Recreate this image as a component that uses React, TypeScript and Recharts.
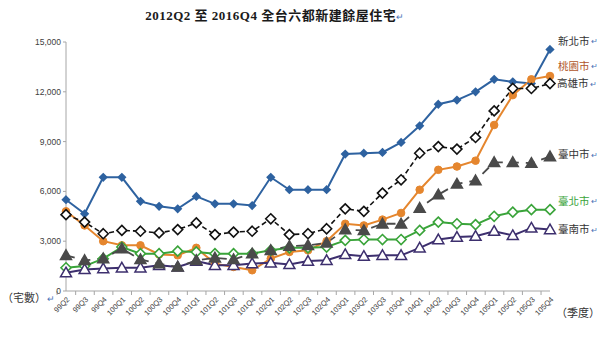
import { LineChart, Line, XAxis, YAxis } from "recharts";

const quarters = [
  "99Q2", "99Q3", "99Q4",
  "100Q1", "100Q2", "100Q3", "100Q4",
  "101Q1", "101Q2", "101Q3", "101Q4",
  "102Q1", "102Q2", "102Q3", "102Q4",
  "103Q1", "103Q2", "103Q3", "103Q4",
  "104Q1", "104Q2", "104Q3", "104Q4",
  "105Q1", "105Q2", "105Q3", "105Q4",
];

const newTaipei = [5500, 4650, 6850, 6850, 5400, 5100, 4950, 5700, 5250, 5250, 5150, 6850, 6100, 6100, 6100, 8250, 8300, 8350, 8950, 9950, 11250, 11500, 12000, 12750, 12600, 12500, 14550];
const taoyuan = [4800, 3950, 3000, 2750, 2750, 2200, 2150, 2600, 1650, 1450, 1250, 1950, 2350, 2450, 3000, 4050, 3950, 4300, 4700, 6100, 7300, 7500, 7850, 10000, 11800, 12750, 12950];
const kaohsiung = [4600, 4150, 3450, 3650, 3600, 3500, 3700, 4100, 3400, 3550, 3600, 4350, 3400, 3450, 3750, 4950, 4800, 5900, 6700, 8300, 8700, 8550, 9250, 10850, 12200, 12200, 12500];
const taichung = [2150, 1850, 1950, 2550, 1900, 1650, 1450, 1850, 2000, 1900, 2250, 2450, 2700, 2750, 2900, 3700, 3650, 4050, 4050, 5000, 5800, 6450, 6650, 7750, 7750, 7700, 8100];
const taipei = [1400, 1500, 1950, 2650, 2250, 2250, 2400, 2350, 2250, 2250, 2250, 2450, 2600, 2600, 2650, 3050, 3100, 3100, 3100, 3650, 4150, 4050, 4000, 4500, 4750, 4900, 4900];
const tainan = [1100, 1300, 1350, 1400, 1400, 1550, 1450, 1800, 1550, 1550, 1650, 1700, 1600, 1800, 1850, 2200, 2100, 2150, 2150, 2600, 3100, 3250, 3300, 3600, 3350, 3800, 3700];

const yTicks = [0, 3000, 6000, 9000, 12000, 15000];

const data = quarters.map((q, i) => ({
  q,
  newTaipei: newTaipei[i],
  taoyuan: taoyuan[i],
  kaohsiung: kaohsiung[i],
  taichung: taichung[i],
  taipei: taipei[i],
  tainan: tainan[i],
}));

const CJK = '"Noto Sans CJK TC", "Noto Sans CJK SC", sans-serif';
const ARROW = "#4a72b8";

const makeDot = (shape: string, fill: string, stroke: string, size: number) => (props: any) => {
  const { cx, cy, index } = props;
  if (cx == null || cy == null) return <g key={index} />;
  if (shape === "diamond") {
    const s = size;
    return (
      <path
        key={index}
        d={`M${cx},${cy - s}L${cx + s},${cy}L${cx},${cy + s}L${cx - s},${cy}Z`}
        fill={fill}
        stroke={stroke}
        strokeWidth={1.6}
      />
    );
  }
  if (shape === "triangle") {
    const s = size;
    return (
      <path
        key={index}
        d={`M${cx},${cy - s}L${cx + s},${cy + s * 0.75}L${cx - s},${cy + s * 0.75}Z`}
        fill={fill}
        stroke={stroke}
        strokeWidth={1.5}
      />
    );
  }
  return <circle key={index} cx={cx} cy={cy} r={size} fill={fill} stroke={stroke} strokeWidth={1} />;
};

const endLabel = (text: string, color: string, dx: number, dy: number) => (props: any) => {
  const { x, y, index } = props;
  if (index !== quarters.length - 1) return null;
  return (
    <text x={x + dx} y={y + dy} fontSize={10.5} fontFamily={CJK} fill={color} dominantBaseline="middle">
      {text}
      <tspan fill={ARROW} fontSize={8}> ↵</tspan>
    </text>
  );
};

const XTick = (props: any) => {
  const { x, y, payload } = props;
  const step = 484 / quarters.length;
  return (
    <g>
      <line x1={x - step / 2} y1={y - 8} x2={x - step / 2} y2={y - 4} stroke="#a6a6a6" />
      <text
        x={0}
        y={0}
        transform={`translate(${x + 4},${y + 1}) rotate(-45)`}
        textAnchor="end"
        fontSize={7.5}
        fontFamily="Liberation Sans, sans-serif"
        fill="#404040"
      >
        {payload.value}
      </text>
    </g>
  );
};

export default function App() {
  return (
    <div style={{ position: "absolute", left: 0, top: 0, width: 600, height: 361, background: "#fff" }}>
      <LineChart width={600} height={361} data={data} margin={{ top: 42, right: 50, bottom: 35, left: 6 }}>
        <XAxis
          dataKey="q"
          stroke="#a6a6a6"
          tickLine={false}
          interval={0}
          tick={<XTick />}
          height={35}
        />
        <YAxis
          domain={[0, 15000]}
          ticks={yTicks}
          width={60}
          stroke="#a6a6a6"
          tickSize={3}
          tickFormatter={(v: number) => v.toLocaleString("en-US")}
          tick={{ fontSize: 8.5, fill: "#404040", fontFamily: "Liberation Sans, sans-serif" }}
        />
        <Line
          dataKey="newTaipei"
          stroke="#2e62a0"
          strokeWidth={2}
          dot={makeDot("diamond", "#2e62a0", "#2e62a0", 3.5)}
          label={endLabel("新北市", "#333", 8, -7)}
          isAnimationActive={false}
        />
        <Line
          dataKey="taoyuan"
          stroke="#e5862e"
          strokeWidth={2}
          dot={makeDot("circle", "#e5862e", "#e5862e", 3.8)}
          label={endLabel("桃園市", "#b0552a", 8, -9)}
          isAnimationActive={false}
        />
        <Line
          dataKey="kaohsiung"
          stroke="#111"
          strokeWidth={1.6}
          strokeDasharray="5 3"
          dot={makeDot("diamond", "#fff", "#111", 5)}
          label={endLabel("高雄市", "#333", 7, 1)}
          isAnimationActive={false}
        />
        <Line
          dataKey="taipei"
          stroke="#3aa43a"
          strokeWidth={2}
          dot={makeDot("diamond", "#fff", "#3aa43a", 5)}
          label={endLabel("臺北市", "#3aa43a", 8, -8)}
          isAnimationActive={false}
        />
        <Line
          dataKey="tainan"
          stroke="#3d2f6e"
          strokeWidth={2}
          dot={makeDot("triangle", "#fff", "#3d2f6e", 5.5)}
          label={endLabel("臺南市", "#333", 8, 1)}
          isAnimationActive={false}
        />
        <Line
          dataKey="taichung"
          stroke="#4a4a4a"
          strokeWidth={1.8}
          strokeDasharray="9 7"
          dot={makeDot("triangle", "#4a4a4a", "#4a4a4a", 5.5)}
          label={endLabel("臺中市", "#333", 8, -1)}
          isAnimationActive={false}
        />
      </LineChart>
      <svg
        width={600}
        height={361}
        style={{ position: "absolute", left: 0, top: 0, pointerEvents: "none" }}
      >
        <text
          x={275}
          y={20}
          textAnchor="middle"
          fontSize={13}
          fontWeight="bold"
          fontFamily='"Liberation Serif", "Noto Sans CJK TC", serif'
          fill="#1a1a1a"
          letterSpacing={0.5}
        >
          2012Q2 至 2016Q4 全台六都新建餘屋住宅
          <tspan fill={ARROW} fontSize={9} fontWeight="normal">↵</tspan>
        </text>
        <text x={2} y={302} fontSize={11} fontFamily={CJK} fill="#333">
          （宅數）
        </text>
        <text x={47} y={302} fontSize={9} fontFamily={CJK} fill={ARROW}>
          ↵
        </text>
        <text x={556} y={317} fontSize={11} fontFamily={CJK} fill="#333">
          （季度）
        </text>
      </svg>
    </div>
  );
}
